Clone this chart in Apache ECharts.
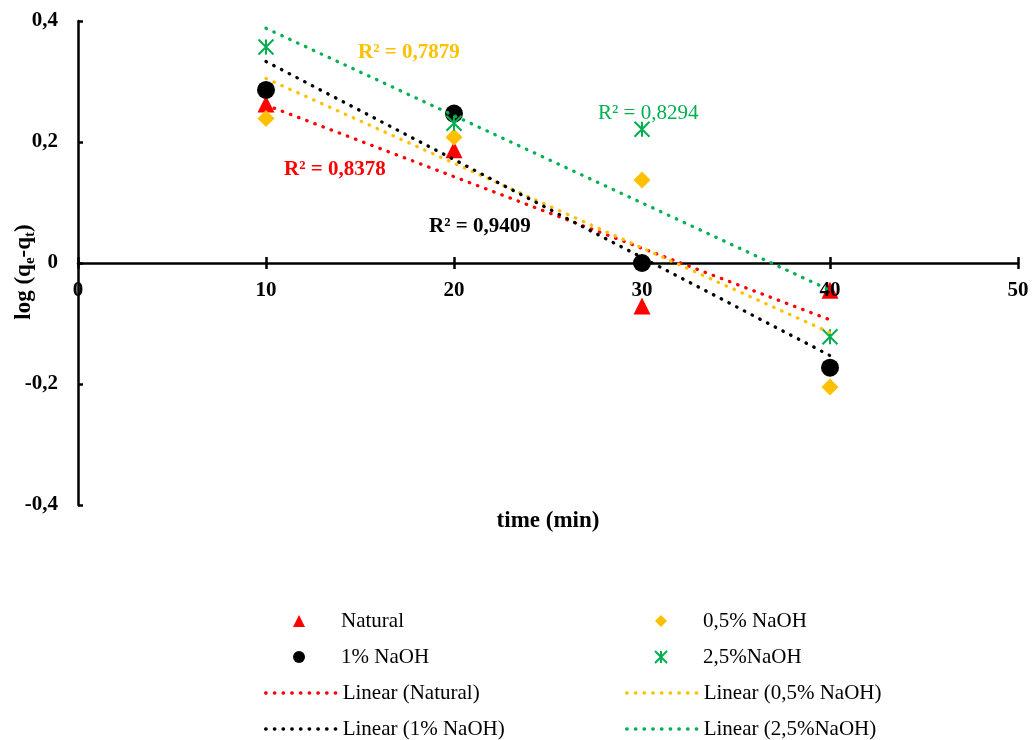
<!DOCTYPE html>
<html><head><meta charset="utf-8">
<script src="https://cdn.jsdelivr.net/npm/echarts@6/dist/echarts.min.js"></script>
<style>html,body{margin:0;padding:0;background:#fff}#chart{width:1032px;height:740px}</style>
</head><body><div id="chart"></div>
<script>
// ---- data ----
const times = [10, 20, 30, 40];
const natural = [0.263, 0.187, -0.071, -0.045];
const naoh05 = [0.239, 0.208, 0.137, -0.205];
const naoh1 = [0.286, 0.247, 0.000, -0.173];
const naoh25 = [0.357, 0.231, 0.221, -0.122];
// trendline end points (x = 10 and x = 40)
const trendX = [10, 40];
const trendNatural = [0.261, -0.094];
const trendNaoh05 = [0.305, -0.115];
const trendNaoh1 = [0.333, -0.153];
const trendNaoh25 = [0.388, -0.045];
const seriesNames = ['Natural', '0,5% NaOH', '1% NaOH', '2,5%NaOH'];
const trendNames = ['Linear (Natural)', 'Linear (0,5% NaOH)', 'Linear (1% NaOH)', 'Linear (2,5%NaOH)'];
const r2Labels = ['R² = 0,8378', 'R² = 0,7879', 'R² = 0,9409', 'R² = 0,8294'];
const xTicks = { min: 0, max: 50, step: 10 };
const yTicks = { min: -0.4, max: 0.4, step: 0.2 };

const FONT = '"Liberation Serif", "Times New Roman", serif';
const colors = ['#FF0000', '#FFC000', '#000000', '#00B050'];
const symbols = ['triangle', 'diamond', 'circle', 'path://M0,0L10,10M10,0L0,10M5,0L5,10'];
const symSizes = [17, 17, 18, 15];
const values = [natural, naoh05, naoh1, naoh25];
const trends = [trendNatural, trendNaoh05, trendNaoh1, trendNaoh25];

const comma = v => String(v).replace('.', ',');

const series = [];
values.forEach((vals, k) => {
  const isStar = k === 3;
  series.push({
    name: seriesNames[k], type: 'scatter', z: 2,
    symbol: symbols[k], symbolSize: symSizes[k],
    itemStyle: isStar ? { color: 'rgba(0,0,0,0)', borderColor: colors[k], borderWidth: 2, opacity: 1 } : { color: colors[k], opacity: 1 },
    data: times.map((t, i) => [t, vals[i]])
  });
});
trends.forEach((tr, k) => {
  series.push({
    name: trendNames[k], type: 'line', z: 5, symbol: 'none', silent: true,
    itemStyle: { color: colors[k] },
    lineStyle: { color: colors[k], width: 3.3, type: [0.5, 8.2], cap: 'round' },
    data: trendX.map((t, i) => [t, tr[i]])
  });
});

const axisLine = { color: '#000', width: 2.5 };
const tickFont = { fontFamily: FONT, fontWeight: 'bold', fontSize: 21, color: '#000' };
// the x axis crosses the y axis at 0 (middle of the 484px-high plot)
const xAxisShift = -242;

const legendCommon = {
  orient: 'vertical', padding: 0, itemHeight: 12, itemGap: 14,
  textStyle: { fontFamily: FONT, fontSize: 21, color: '#000', lineHeight: 22 },
  selectedMode: false
};
const markerLegend = (left, names) => Object.assign({}, legendCommon, {
  left: left, top: 610, itemWidth: 12, data: names,
  textStyle: Object.assign({}, legendCommon.textStyle, { padding: [0, 0, 0, 31] })
});
const lineLegend = (left, names) => Object.assign({}, legendCommon, {
  left: left, top: 682, itemWidth: 72, lineStyle: { width: 3.3 },
  data: names.map(n => ({ name: n, itemStyle: { opacity: 0 } }))
});

const option = {
  backgroundColor: '#fff',
  animation: false,
  grid: { left: 78, right: 14, top: 21, bottom: 235, outerBoundsMode: 'none', containLabel: false },
  xAxis: [{
    type: 'value', min: xTicks.min, max: xTicks.max, interval: xTicks.step,
    position: 'bottom', offset: xAxisShift, z: 4,
    axisLine: { onZero: false, lineStyle: axisLine },
    axisTick: { show: true, length: 6, lineStyle: axisLine },
    axisLabel: Object.assign({ margin: 17, formatter: comma, showMinLabel: true }, tickFont),
    splitLine: { show: false }
  }, {
    type: 'value', min: xTicks.min, max: xTicks.max, interval: xTicks.step,
    position: 'bottom', offset: xAxisShift, z: 4,
    axisLine: { show: false, onZero: false },
    axisTick: { show: true, inside: true, length: 6, lineStyle: axisLine },
    axisLabel: { show: false },
    splitLine: { show: false }
  }],
  yAxis: {
    type: 'value', min: yTicks.min, max: yTicks.max, interval: yTicks.step,
    axisLine: { onZero: false, lineStyle: axisLine },
    axisTick: { show: true, inside: true, length: 5, lineStyle: axisLine },
    axisLabel: Object.assign({ margin: 20, formatter: comma }, tickFont),
    splitLine: { show: false },
    name: '{b|log (q}{s|e}{b|-q}{s|t}{b|)}',
    nameLocation: 'middle', nameRotate: 90, nameGap: 40, nameMoveOverlap: false,
    nameTextStyle: {
      padding: [0, 18, 0, 0],
      rich: {
        b: { fontFamily: FONT, fontWeight: 'bold', fontSize: 23, lineHeight: 28, color: '#000' },
        s: { fontFamily: FONT, fontWeight: 'bold', fontSize: 15, lineHeight: 17, verticalAlign: 'bottom', color: '#000' }
      }
    }
  },
  legend: [
    markerLegend(293, [seriesNames[0], seriesNames[2]]),
    markerLegend(654, [seriesNames[1], seriesNames[3]]),
    lineLegend(264, [trendNames[0], trendNames[2]]),
    lineLegend(625, [trendNames[1], trendNames[3]])
  ],
  graphic: [
    { type: 'text', x: 548, y: 521, style: { text: 'time (min)', fill: '#000', fontFamily: FONT, fontWeight: 'bold', fontSize: 23, align: 'center', verticalAlign: 'middle' } },
    { type: 'text', x: 284, y: 170, style: { text: r2Labels[0], fill: colors[0], fontFamily: FONT, fontWeight: 'bold', fontSize: 21, align: 'left', verticalAlign: 'middle' } },
    { type: 'text', x: 358, y: 53, style: { text: r2Labels[1], fill: colors[1], fontFamily: FONT, fontWeight: 'bold', fontSize: 21, align: 'left', verticalAlign: 'middle' } },
    { type: 'text', x: 429, y: 227, style: { text: r2Labels[2], fill: colors[2], fontFamily: FONT, fontWeight: 'bold', fontSize: 21, align: 'left', verticalAlign: 'middle' } },
    { type: 'text', x: 598, y: 113, style: { text: r2Labels[3], fill: colors[3], fontFamily: FONT, fontWeight: 'normal', fontSize: 21, align: 'left', verticalAlign: 'middle' } }
  ],
  series: series
};

const chart = echarts.init(document.getElementById('chart'), null, { renderer: 'canvas' });
chart.setOption(option);
</script>
</body></html>
